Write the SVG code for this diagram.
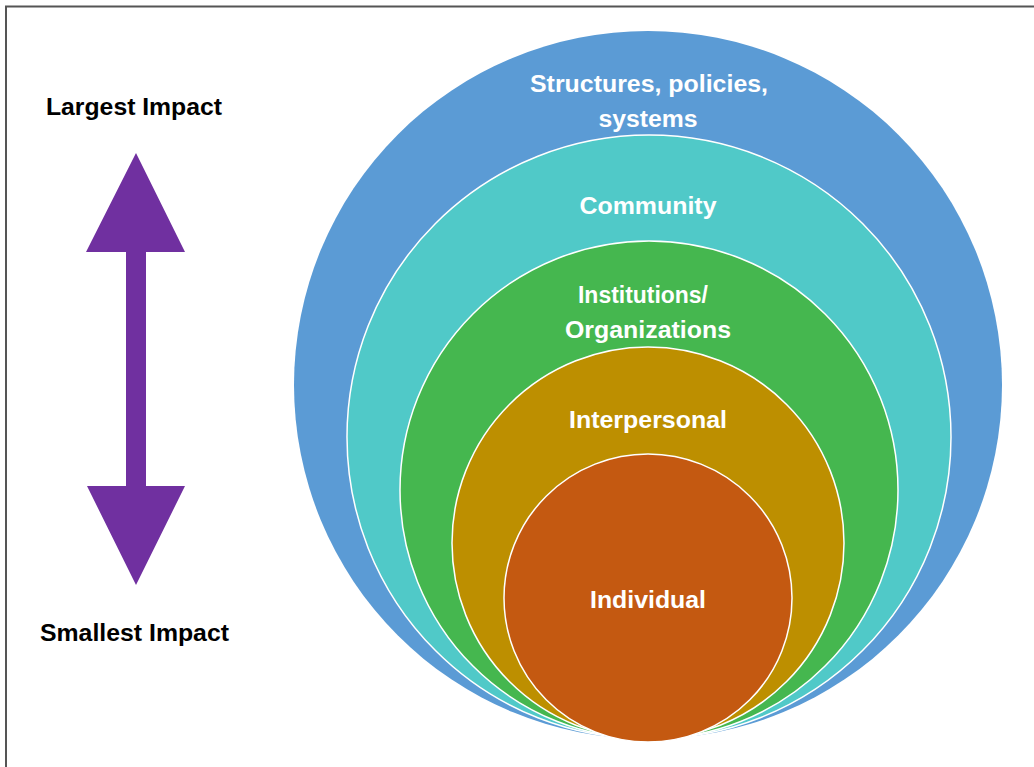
<svg xmlns="http://www.w3.org/2000/svg" width="1034" height="767" viewBox="0 0 1034 767">
<style>
.lbl{font-family:"Liberation Sans",Arial,sans-serif;font-weight:bold;font-size:23px;fill:#fff;text-anchor:middle}
.side{font-family:"Liberation Sans",Arial,sans-serif;font-weight:bold;font-size:23px;fill:#000;text-anchor:middle}
.ring{stroke:#fff;stroke-width:1.5}
</style>
<rect width="1034" height="767" fill="#fff"/>
<path d="M6,767 V6.5 H1034" fill="none" stroke="#555" stroke-width="2"/>
<g id="ring-structures"><circle cx="648" cy="385" r="354" fill="#5B9BD5"/></g>
<g id="ring-community"><circle class="ring" cx="649" cy="437" r="302" fill="#50C9C8"/></g>
<g id="ring-institutions"><circle class="ring" cx="649" cy="490" r="249" fill="#45B74F"/></g>
<g id="ring-interpersonal"><circle class="ring" cx="648" cy="543" r="196" fill="#BD8F00"/></g>
<g id="ring-individual"><circle class="ring" cx="648" cy="598" r="144" fill="#C45911"/></g>
<g id="labels">
<text class="lbl" x="649" y="92" textLength="238" lengthAdjust="spacingAndGlyphs">Structures, policies,</text>
<text class="lbl" x="648" y="127" textLength="99" lengthAdjust="spacingAndGlyphs">systems</text>
<text class="lbl" x="648" y="214" textLength="137" lengthAdjust="spacingAndGlyphs">Community</text>
<text class="lbl" x="643" y="303" textLength="130" lengthAdjust="spacingAndGlyphs">Institutions/</text>
<text class="lbl" x="648" y="338" textLength="166" lengthAdjust="spacingAndGlyphs">Organizations</text>
<text class="lbl" x="648" y="428" textLength="158" lengthAdjust="spacingAndGlyphs">Interpersonal</text>
<text class="lbl" x="648" y="608" textLength="116" lengthAdjust="spacingAndGlyphs">Individual</text>
</g>
<g id="label-largest"><text class="side" x="134" y="115" textLength="176" lengthAdjust="spacingAndGlyphs">Largest Impact</text></g>
<g id="label-smallest"><text class="side" x="134.5" y="641" textLength="189" lengthAdjust="spacingAndGlyphs">Smallest Impact</text></g>
<g id="connectors">
<path d="M136,153 L185,252 L146,252 L146,486 L185,486 L136,585 L87,486 L126,486 L126,252 L86,252 Z" fill="#7030A0"/>
</g>
</svg>
